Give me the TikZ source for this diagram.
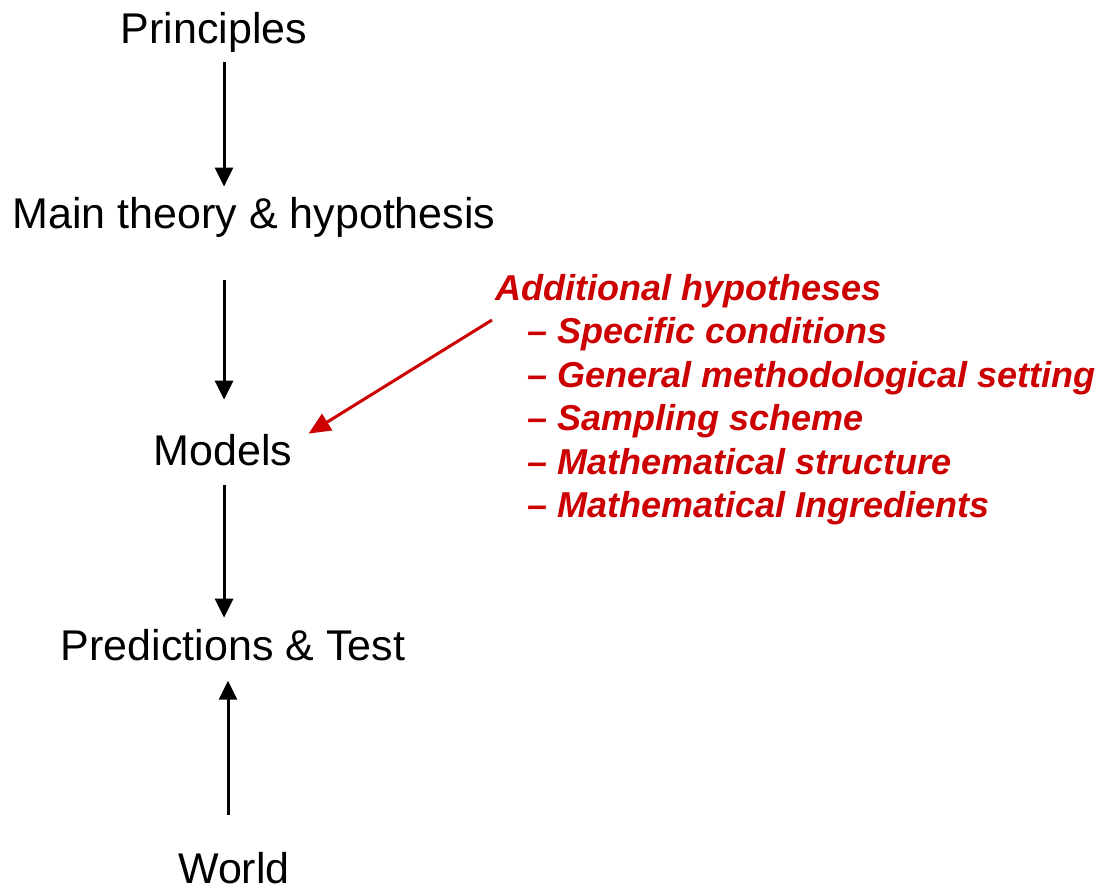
\documentclass[tikz,border=0pt]{standalone}
\usepackage{fontspec}
\setmainfont{Liberation Sans}
\usetikzlibrary{arrows.meta}
\definecolor{hypred}{RGB}{204,0,0}
\tikzset{
  blk/.style={inner sep=0pt, anchor=base, font=\fontsize{43}{52}\selectfont},
  redtxt/.style={inner sep=0pt, anchor=base west, text=hypred, font=\fontsize{36}{43}\selectfont\bfseries\itshape},
  arr/.style={line width=3pt, -{Triangle[width=18pt,length=19pt]}},
  redarr/.style={draw=hypred, line width=3pt, -{Triangle[width=19pt,length=22pt]}}
}
\begin{document}
\begin{tikzpicture}[x=1pt,y=-1pt]
\useasboundingbox (0,0) rectangle (1113,891);
\node[blk] (principles) at (214,44) {Principles};
\node[blk] (main) at (254,228) {Main theory \& hypothesis};
\node[blk] (models) at (223,465) {Models};
\node[blk] (pred) at (233,660) {Predictions \& Test};
\node[blk] (world) at (234,883) {World};

\node[redtxt] (addl) at (495,300) {Additional hypotheses};
\node[redtxt] (i1) at (527,343) {– Specific conditions};
\node[redtxt] (i2) at (527,387) {– General methodological setting};
\node[redtxt] (i3) at (527,430) {– Sampling scheme};
\node[redtxt] (i4) at (527,474) {– Mathematical structure};
\node[redtxt] (i5) at (527,517) {– Mathematical Ingredients};

\coordinate (ax) at (224,0);
\coordinate (bx) at (228,0);
\draw[arr, shorten <=9pt, shorten >=10pt] (principles.south -| ax) -- (main.north -| ax);
\draw[arr, shorten <=43pt, shorten >=34pt] (main.south -| ax) -- (models.north -| ax);
\draw[arr, shorten <=19pt, shorten >=11pt] (models.south -| ax) -- (pred.north -| ax);
\draw[arr, shorten <=37pt, shorten >=20pt] (world.north -| bx) -- (pred.south -| bx);

\coordinate (rs) at (492,320);
\draw[redarr] (rs) -- ([xshift=16pt]models.north east);
\end{tikzpicture}
\end{document}
